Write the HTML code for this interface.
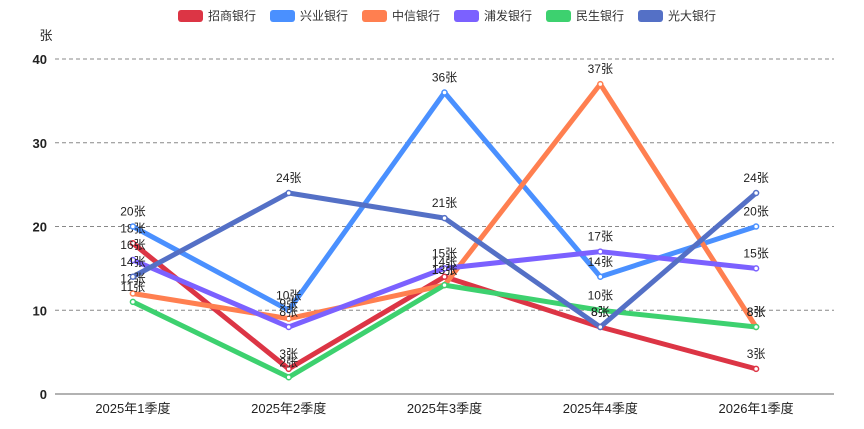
<!DOCTYPE html>
<html><head><meta charset="utf-8"><style>
body{margin:0;background:#fff;font-family:"Liberation Sans","Noto Sans CJK SC",sans-serif;}
svg text{font-family:"Liberation Sans","Noto Sans CJK SC",sans-serif;}
</style></head><body>
<svg id="chart" width="864" height="424"></svg>
<script>
const categories=["2025年1季度","2025年2季度","2025年3季度","2025年4季度","2026年1季度"];
const seriesNames=["招商银行","兴业银行","中信银行","浦发银行","民生银行","光大银行"];
const zhaoshang=[18,3,14,8,3];
const xingye=[20,10,36,14,20];
const zhongxin=[12,9,13,37,8];
const pufa=[16,8,15,17,15];
const minsheng=[11,2,13,10,8];
const guangda=[14,24,21,8,24];
const yTicks=[0,10,20,30,40];
const colors=["#dc3545","#4a90ff","#ff7f50","#7b61ff","#3dd16f","#5470c6"];
const allSeries=[zhaoshang,xingye,zhongxin,pufa,minsheng,guangda];
const NS="http://www.w3.org/2000/svg";
const svg=document.getElementById('chart');
const L=55,R=834,T=59,B=394;
function xs(i){return L+(R-L)/categories.length*(i+0.5);}
function ys(v){return B-(v/40)*(B-T);}
function el(t,a,txt){const e=document.createElementNS(NS,t);for(const k in a)e.setAttribute(k,a[k]);if(txt!=null)e.textContent=txt;svg.appendChild(e);return e;}
yTicks.forEach(v=>{
 if(v>0){const g=el('line',{x1:L,x2:R,y1:ys(v),y2:ys(v),stroke:'#888','stroke-dasharray':'4,3','stroke-width':1});
 
 }
 const t=el('text',{x:L-8,y:ys(v)+5,'text-anchor':'end','font-size':13,'font-weight':'bold',fill:'#222'},v);
 
 
});
const ax=el('line',{x1:L,x2:R,y1:B,y2:B,stroke:'#666','stroke-width':1});


const yt=el('text',{x:46,y:40,'text-anchor':'middle','font-size':13,fill:'#222'},'张');


categories.forEach((c,i)=>{
 const t=el('text',{x:xs(i),y:413,'text-anchor':'middle','font-size':13,fill:'#222'},c);
 
 
});
allSeries.forEach((s,k)=>{
 const p=el('polyline',{points:s.map((v,i)=>xs(i)+','+ys(v)).join(' '),fill:'none',stroke:colors[k],'stroke-width':5,'stroke-linejoin':'round'});
 
 
});
allSeries.forEach((s,k)=>{
 s.forEach((v,i)=>{
  const c=el('circle',{cx:xs(i),cy:ys(v),r:2.5,fill:'#fff',stroke:colors[k],'stroke-width':1.5});
  
  
  const t=el('text',{x:xs(i),y:ys(v)-11,'text-anchor':'middle','font-size':12,fill:'#222'},v+'张');
  
  
 });
});
// legend
const itemW=[92,92,92,92,92,92];
let lx=178;
seriesNames.forEach((n,k)=>{
 const r=el('rect',{x:lx,y:10,width:25,height:12,rx:3,fill:colors[k]});
 
 
 const t=el('text',{x:lx+30,y:20,'font-size':12,fill:'#333'},n);
 
 
 lx+=itemW[k];
});
</script>
</body></html>
